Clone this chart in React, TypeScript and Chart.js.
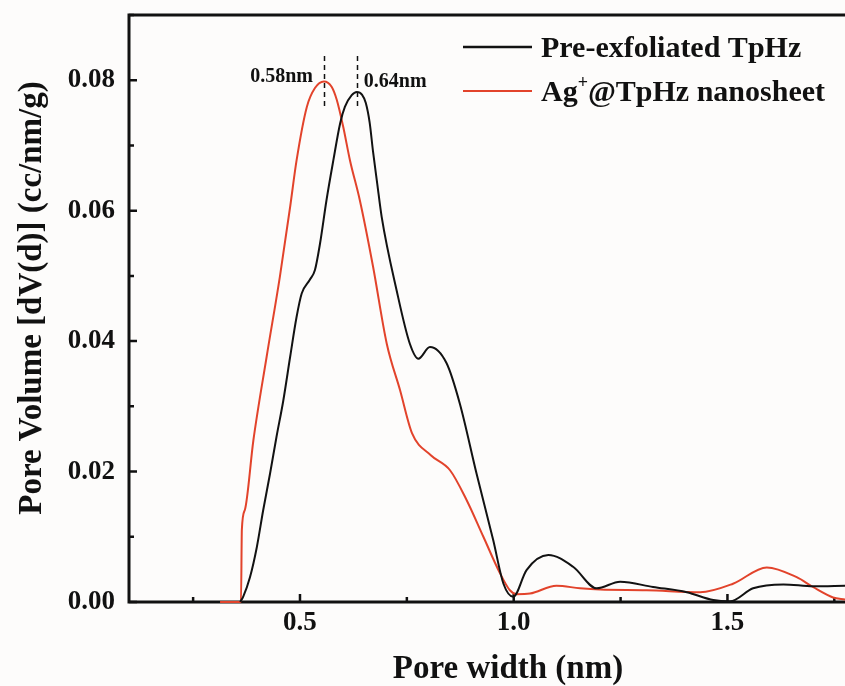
import React, { useEffect, useRef } from 'react';
import { Chart, registerables } from 'chart.js';

Chart.register(...registerables);

// Pre-exfoliated TpHz (black)
const blackX = [0.360, 0.367, 0.383, 0.399, 0.414, 0.430, 0.445, 0.461, 0.477, 0.492, 0.504, 0.523, 0.535, 0.547, 0.562, 0.578, 0.594, 0.605, 0.621, 0.633, 0.645, 0.654, 0.663, 0.671, 0.681, 0.691, 0.726, 0.757, 0.777, 0.804, 0.843, 0.874, 0.913, 0.952, 0.976, 0.999, 1.030, 1.081, 1.139, 1.194, 1.249, 1.326, 1.405, 1.467, 1.506, 1.560, 1.631, 1.701, 1.775];
const blackY = [0, 0.0008, 0.0038, 0.0084, 0.0141, 0.0197, 0.0253, 0.0309, 0.0376, 0.0437, 0.0473, 0.0494, 0.0509, 0.0550, 0.0616, 0.0677, 0.0734, 0.0759, 0.0777, 0.0782, 0.0778, 0.0765, 0.0735, 0.0690, 0.0640, 0.0591, 0.0478, 0.0396, 0.0373, 0.0391, 0.0366, 0.0304, 0.0197, 0.0095, 0.0028, 0.0008, 0.0049, 0.0072, 0.0054, 0.0021, 0.0031, 0.0023, 0.0015, 0.0003, 0.0001, 0.0021, 0.0027, 0.0024, 0.0025];

// Ag+@TpHz nanosheet (red)
const redX = [0.313, 0.362, 0.364, 0.371, 0.391, 0.422, 0.453, 0.477, 0.492, 0.516, 0.535, 0.556, 0.574, 0.586, 0.601, 0.617, 0.640, 0.671, 0.703, 0.734, 0.762, 0.806, 0.851, 0.890, 0.929, 0.968, 0.991, 1.007, 1.038, 1.100, 1.155, 1.202, 1.311, 1.436, 1.513, 1.592, 1.662, 1.700, 1.747, 1.775];
const redY = [0, 0, 0.0111, 0.0141, 0.0248, 0.0376, 0.0499, 0.0606, 0.0677, 0.0759, 0.0788, 0.0798, 0.0790, 0.0770, 0.0729, 0.0677, 0.0616, 0.0514, 0.0396, 0.0325, 0.0259, 0.0225, 0.0202, 0.0156, 0.0100, 0.0044, 0.0018, 0.0012, 0.0013, 0.0025, 0.0021, 0.0019, 0.0018, 0.0015, 0.0028, 0.0053, 0.0038, 0.0023, 0.0007, 0.0004];

const seriesLabels = ['Pre-exfoliated TpHz', 'Ag', '+', '@TpHz nanosheet'];
const seriesColors = ['#121212', '#e2432b'];

const xTickValues = [0.5, 1.0, 1.5];
const xMinorTicks = [0.25, 0.75, 1.25, 1.75];
const yTickValues = [0, 0.02, 0.04, 0.06, 0.08];
const yMinorTicks = [0.01, 0.03, 0.05, 0.07, 0.09];

const peakX = [0.556, 0.633];
const peakText = ['0.58nm', '0.64nm'];
const peakDashY = [0.0759, 0.0837];

const xTitle = 'Pore width (nm)';
const yTitle = 'Pore Volume [dV(d)] (cc/nm/g)';

const FONT = '"Liberation Serif", "Times New Roman", serif';
const INK = '#111111';

const decorPlugin = {
  id: 'decor',
  beforeDraw(chart: any) {
    const ctx = chart.ctx;
    ctx.save();
    ctx.fillStyle = '#fdfcfb';
    ctx.fillRect(0, 0, chart.width, chart.height);
    ctx.restore();
  },
  beforeDatasetsDraw(chart: any) {
    const ctx = chart.ctx;
    const { left, right, top, bottom } = chart.chartArea;
    const xs = chart.scales.x;
    const ys = chart.scales.y;
    ctx.save();
    ctx.strokeStyle = INK;
    ctx.lineCap = 'butt';
    ctx.lineWidth = 3;
    ctx.beginPath();
    ctx.moveTo(left, bottom + 1.5);
    ctx.lineTo(left, top - 1.5);
    ctx.moveTo(left - 1.5, top);
    ctx.lineTo(right, top);
    ctx.moveTo(left - 1.5, bottom);
    ctx.lineTo(right, bottom);
    ctx.stroke();
    ctx.lineWidth = 2.5;
    ctx.beginPath();
    xTickValues.forEach((v) => {
      const px = xs.getPixelForValue(v);
      ctx.moveTo(px, bottom);
      ctx.lineTo(px, bottom - 8);
    });
    xMinorTicks.forEach((v) => {
      const px = xs.getPixelForValue(v);
      ctx.moveTo(px, bottom);
      ctx.lineTo(px, bottom - 5);
    });
    yTickValues.forEach((v) => {
      const py = ys.getPixelForValue(v);
      ctx.moveTo(left, py);
      ctx.lineTo(left + 8, py);
    });
    yMinorTicks.forEach((v) => {
      const py = ys.getPixelForValue(v);
      ctx.moveTo(left, py);
      ctx.lineTo(left + 5, py);
    });
    ctx.stroke();
    ctx.restore();
  },
  afterDatasetsDraw(chart: any) {
    const ctx = chart.ctx;
    const xs = chart.scales.x;
    const ys = chart.scales.y;
    ctx.save();
    ctx.fillStyle = INK;

    // peak markers
    ctx.strokeStyle = INK;
    ctx.lineWidth = 1.5;
    ctx.setLineDash([5, 4]);
    peakX.forEach((v) => {
      const px = Math.round(xs.getPixelForValue(v)) + 0.5;
      ctx.beginPath();
      ctx.moveTo(px, ys.getPixelForValue(peakDashY[1]));
      ctx.lineTo(px, ys.getPixelForValue(peakDashY[0]));
      ctx.stroke();
    });
    ctx.setLineDash([]);
    ctx.font = `bold 20px ${FONT}`;
    ctx.textBaseline = 'alphabetic';
    ctx.textAlign = 'right';
    ctx.fillText(peakText[0], xs.getPixelForValue(peakX[0]) - 11, 82);
    ctx.textAlign = 'left';
    ctx.fillText(peakText[1], xs.getPixelForValue(peakX[1]) + 7, 87);

    // legend
    const lx0 = 463;
    const lx1 = 532;
    const tx = 541;
    ctx.lineWidth = 2.5;
    ctx.strokeStyle = seriesColors[0];
    ctx.beginPath();
    ctx.moveTo(lx0, 47);
    ctx.lineTo(lx1, 47);
    ctx.stroke();
    ctx.strokeStyle = seriesColors[1];
    ctx.lineWidth = 2;
    ctx.beginPath();
    ctx.moveTo(lx0, 91);
    ctx.lineTo(lx1, 91);
    ctx.stroke();
    ctx.textAlign = 'left';
    ctx.font = `bold 30px ${FONT}`;
    ctx.fillText(seriesLabels[0], tx, 57);
    ctx.fillText(seriesLabels[1], tx, 101);
    let w = ctx.measureText(seriesLabels[1]).width;
    ctx.font = `bold 18px ${FONT}`;
    ctx.fillText(seriesLabels[2], tx + w, 88);
    w += ctx.measureText(seriesLabels[2]).width;
    ctx.font = `bold 30px ${FONT}`;
    ctx.fillText(seriesLabels[3], tx + w, 101);

    // axis titles
    ctx.font = `bold 33px ${FONT}`;
    ctx.textAlign = 'center';
    ctx.fillText(xTitle, 508, 678);
    ctx.save();
    ctx.translate(41, 298);
    ctx.rotate(-Math.PI / 2);
    ctx.fillText(yTitle, 0, 0);
    ctx.restore();

    ctx.restore();
  },
};

export default function App() {
  const canvasRef = useRef<HTMLCanvasElement | null>(null);

  useEffect(() => {
    const canvas = canvasRef.current;
    if (!canvas) return;
    const chart = new Chart(canvas, {
      type: 'line',
      data: {
        datasets: [
          {
            label: 'Pre-exfoliated TpHz',
            data: blackX.map((x, i) => ({ x, y: blackY[i] })),
            borderColor: seriesColors[0],
            borderWidth: 2,
            pointRadius: 0,
            cubicInterpolationMode: 'monotone',
            fill: false,
            clip: 6,
          } as any,
          {
            label: 'Ag+@TpHz nanosheet',
            data: redX.map((x, i) => ({ x, y: redY[i] })),
            borderColor: seriesColors[1],
            borderWidth: 2,
            pointRadius: 0,
            cubicInterpolationMode: 'monotone',
            fill: false,
            clip: 6,
          } as any,
        ],
      },
      options: {
        responsive: false,
        animation: false,
        devicePixelRatio: 1,
        layout: { padding: { top: 15, right: 0, left: 0, bottom: 0 } },
        plugins: {
          legend: { display: false },
          tooltip: { enabled: false },
          title: { display: false },
        },
        scales: {
          x: {
            type: 'linear',
            min: 0.1,
            max: 1.775,
            grid: { display: false, drawTicks: false },
            border: { display: false },
            afterBuildTicks: (s: any) => {
              s.ticks = xTickValues.map((v) => ({ value: v }));
            },
            afterFit: (s: any) => {
              s.height = 84;
              s.paddingLeft = 0;
              s.paddingRight = 0;
              s.paddingTop = 0;
              s.paddingBottom = 0;
            },
            ticks: {
              padding: 8,
              maxRotation: 0,
              autoSkip: false,
              color: INK,
              font: { family: FONT, size: 27, weight: 'bold', lineHeight: 1 },
              callback: (v: any) => Number(v).toFixed(1),
            },
          },
          y: {
            type: 'linear',
            min: 0,
            max: 0.09,
            grid: { display: false, drawTicks: false },
            border: { display: false },
            afterBuildTicks: (s: any) => {
              s.ticks = yTickValues.map((v) => ({ value: v }));
            },
            afterFit: (s: any) => {
              s.width = 129;
              s.paddingLeft = 0;
              s.paddingRight = 0;
              s.paddingTop = 0;
              s.paddingBottom = 0;
            },
            ticks: {
              padding: 14,
              autoSkip: false,
              color: INK,
              font: { family: FONT, size: 27, weight: 'bold', lineHeight: 1 },
              callback: (v: any) => Number(v).toFixed(2),
            },
          },
        },
      } as any,
      plugins: [decorPlugin],
    });
    return () => chart.destroy();
  }, []);

  return (
    <div style={{ position: 'absolute', left: 0, top: 0, width: 845, height: 686 }}>
      <canvas ref={canvasRef} width={845} height={686} style={{ display: 'block', width: 845, height: 686 }} />
    </div>
  );
}
